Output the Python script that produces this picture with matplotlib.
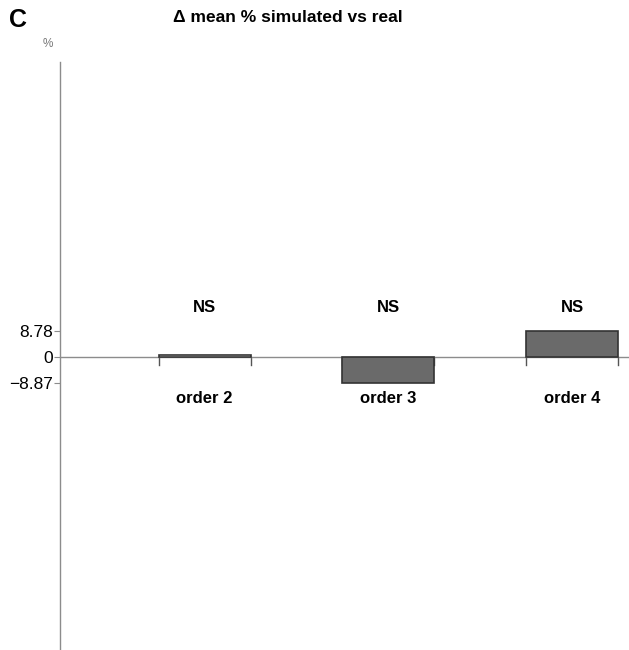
import numpy as np
import matplotlib
matplotlib.use('Agg')
import matplotlib.pyplot as plt

plt.rcParams['font.family'] = ['Liberation Sans', 'DejaVu Sans']

# Data
lstCat = ['order 2', 'order 3', 'order 4']
vecVal = np.array([0.6, -8.87, 8.78])
lstSig = ['NS', 'NS', 'NS']
lstFill = ['#ffffff', '#6a6a6a', '#6a6a6a']
vecYtck = [8.78, 0, -8.87]
lstYlbl = ['8.78', '0', '\u22128.87']

varDpi = 100
fgr01 = plt.figure(figsize=(629.0 / varDpi, 650.0 / varDpi), dpi=varDpi)
axs01 = fgr01.add_axes([60.0 / 629, 0.0, 569.0 / 629, 588.0 / 650])

vecX = np.arange(1, len(lstCat) + 1)
varWdth = 0.5
strGrey = '#8c8c8c'

# Bars:
axs01.bar(vecX, vecVal, width=varWdth, color=lstFill,
          edgecolor='#333333', linewidth=1.2, zorder=3)

# Zero line:
axs01.axhline(0.0, color=strGrey, linewidth=1.0, zorder=2)

# Small ticks at bar edges:
for idx in range(len(vecX)):
    for varEdge in (vecX[idx] - varWdth / 2, vecX[idx] + varWdth / 2):
        axs01.plot([varEdge, varEdge], [0.0, -2.8], color='#555555',
                   linewidth=1.0, zorder=1)

# Labels:
for idx in range(len(vecX)):
    axs01.text(vecX[idx], 16.9, lstSig[idx], ha='center', va='center',
               fontsize=12, fontweight='bold')
    axs01.text(vecX[idx], -13.9, lstCat[idx], ha='center', va='center',
               fontsize=12, fontweight='bold')

axs01.set_xlim(0.213, 3.31)
axs01.set_ylim(-99.0, 99.7)

axs01.spines['top'].set_visible(False)
axs01.spines['right'].set_visible(False)
axs01.spines['bottom'].set_visible(False)
axs01.spines['left'].set_color(strGrey)
axs01.spines['left'].set_linewidth(1.0)

axs01.set_xticks([])
axs01.set_yticks(vecYtck)
axs01.set_yticklabels(lstYlbl)
axs01.tick_params(axis='y', labelsize=12.5, length=4, width=0.8,
                  color=strGrey, pad=1)

# Titles:
fgr01.text(288.0 / 629, 1 - 17.0 / 650, '\u0394 mean % simulated vs real',
           ha='center', va='center', fontsize=12.5, fontweight='bold')
fgr01.text(9.0 / 629, 1 - 20.0 / 650, 'C', ha='left', va='center',
           fontsize=18, fontweight='bold')
fgr01.text(48.0 / 629, 1 - 44.0 / 650, '%', ha='center', va='center',
           fontsize=8.5, color='#777777')

fgr01.savefig('out.png', dpi=varDpi, facecolor='w')
plt.close(fgr01)
